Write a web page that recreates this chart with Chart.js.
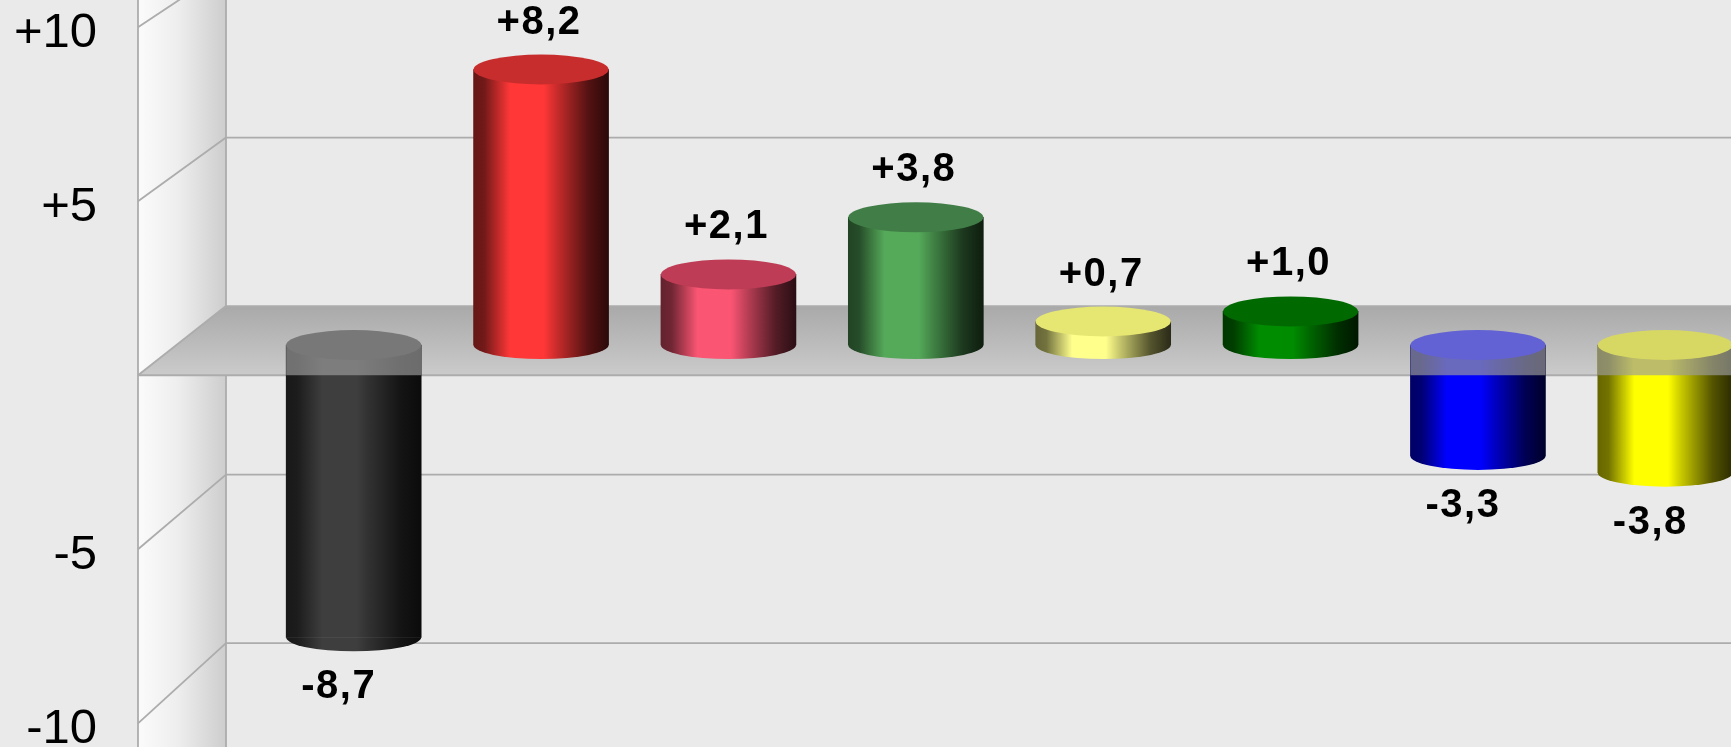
<!DOCTYPE html>
<html><head><meta charset="utf-8">
<style>html,body{margin:0;padding:0;background:#eaeaea;overflow:hidden;width:1731px;height:747px}canvas{display:block}</style>
<script src="https://cdn.jsdelivr.net/npm/chart.js@4"></script>
</head><body><canvas id="c" width="1759" height="747"></canvas>
<script>
const categories = ['A','B','C','D','E','F','G','H'];
const values = [-8.7, 8.2, 2.1, 3.8, 0.7, 1.0, -3.3, -3.8];
const valueLabels = ['-8,7','+8,2','+2,1','+3,8','+0,7','+1,0','-3,3','-3,8'];
const barColors = [[62,62,62],[255,55,55],[250,85,115],[85,170,90],[255,255,140],[0,140,0],[0,0,255],[255,255,0]];
const topColors = ['rgb(120,120,120)','rgb(200,45,45)','rgb(190,60,85)','rgb(65,125,70)','rgb(230,230,115)','rgb(0,105,0)','rgb(98,98,212)','rgb(215,215,100)'];
const tickValues = [-10,-5,0,5,10];
const wall = {front:138, back:226};
const BAR_W = 135, RY_TOP = 15, RY_BOTTOM = 14;
const stops = [[0,.4],[.08,.45],[.27,1],[.52,1],[.62,.78],[.72,.58],[.85,.33],[1,.17]];
const rgb = (c,f)=>`rgb(${c.map(v=>Math.round(v*f)).join(',')})`;
function sideGrad(ctx,x,i){
  const g = ctx.createLinearGradient(x-BAR_W/2,0,x+BAR_W/2,0);
  stops.forEach(s=>g.addColorStop(s[0],rgb(barColors[i],s[1])));
  return g;
}
function drawTop(ctx,el,i){
  const y = Math.min(el.y,el.base);
  ctx.fillStyle = topColors[i];
  ctx.beginPath();ctx.ellipse(el.x,y,BAR_W/2,RY_TOP,0,0,Math.PI*2);ctx.fill();
}
function drawBottom(ctx,el,i){
  const y = Math.max(el.y,el.base);
  ctx.fillStyle = sideGrad(ctx,el.x,i);
  ctx.beginPath();ctx.ellipse(el.x,y,BAR_W/2,RY_BOTTOM,0,0,Math.PI);ctx.fill();
}
const LINE='#acacac';
function seg(ctx,x1,y1,x2,y2){ctx.strokeStyle=LINE;ctx.lineWidth=1.8;ctx.beginPath();ctx.moveTo(x1,y1);ctx.lineTo(x2,y2);ctx.stroke();}
const scene = {
  id:'scene',
  beforeDatasetsDraw(chart){
    const ctx=chart.ctx,{yFront,yBack}=chart.scales,W=chart.width,H=chart.height;
    const g=ctx.createLinearGradient(wall.front,0,wall.back,0);
    g.addColorStop(0,'#fbfbfb');g.addColorStop(.45,'#eeeeee');g.addColorStop(1,'#cdcdcd');
    ctx.fillStyle=g;ctx.fillRect(wall.front,0,wall.back-wall.front,H);
    seg(ctx,wall.front,0,wall.front,H);seg(ctx,wall.back,0,wall.back,H);
    tickValues.forEach(v=>{
      const f=yFront.getPixelForValue(v),b=yBack.getPixelForValue(v);
      if(v===0) return;
      seg(ctx,wall.front,f,wall.back,b);
      seg(ctx,wall.back,b,W,b);
    });
    const f=yFront.getPixelForValue(0),b=yBack.getPixelForValue(0);
    const fl=ctx.createLinearGradient(0,b,0,f);
    fl.addColorStop(0,'#a9a9a9');fl.addColorStop(1,'#cbcbcb');
    ctx.fillStyle=fl;ctx.beginPath();ctx.moveTo(wall.front,f);ctx.lineTo(wall.back,b);ctx.lineTo(W,b);ctx.lineTo(W,f);ctx.closePath();ctx.fill();
    seg(ctx,wall.front,f,wall.back,b);seg(ctx,wall.back,b,W,b);seg(ctx,wall.front,f,W,f);
  },
  beforeDatasetDraw(chart,args){
    const ctx=chart.ctx;
    args.meta.data.forEach((el,i)=>{ if(chart.data.datasets[args.index].data[i]!==null) drawBottom(ctx,el,i); });
  },
  afterDatasetDraw(chart,args){
    const ctx=chart.ctx,{yFront}=chart.scales;
    const f=yFront.getPixelForValue(0);
    args.meta.data.forEach((el,i)=>{
      if(chart.data.datasets[args.index].data[i]===null) return;
      if(args.index===1){
        ctx.fillStyle='rgba(157,157,157,.67)';
        ctx.fillRect(el.x-BAR_W/2,el.base,BAR_W,f-el.base);
      }
      drawTop(ctx,el,i);
    });
  },
  afterDraw(chart){
    const ctx=chart.ctx,{x,y}=chart.scales;
    ctx.save();
    ctx.font='bold 40px "Liberation Sans"';ctx.letterSpacing='1.5px';
    ctx.fillStyle='#000';ctx.textAlign='center';ctx.textBaseline='middle';
    values.forEach((v,i)=>{
      const px=x.getPixelForTick(i),py=y.getPixelForValue(v);
      if(v>=0) ctx.fillText(valueLabels[i],px-2,py-47);
      else ctx.fillText(valueLabels[i],px-15,py+50);
    });
    ctx.restore();
  }
};
new Chart(document.getElementById('c'),{
  type:'bar',
  data:{labels:categories,datasets:[
    {data:values.map(v=>v>0?v:null),yAxisID:'y',grouped:false,barThickness:BAR_W,borderWidth:0,
     backgroundColor:c=>sideGrad(c.chart.ctx,c.chart.scales.x.getPixelForTick(c.dataIndex),c.dataIndex)},
    {data:values.map(v=>v<0?v:null),yAxisID:'y',grouped:false,barThickness:BAR_W,borderWidth:0,
     backgroundColor:c=>sideGrad(c.chart.ctx,c.chart.scales.x.getPixelForTick(c.dataIndex),c.dataIndex)}
  ]},
  options:{
    responsive:false,animation:false,events:[],
    plugins:{legend:{display:false},tooltip:{enabled:false}},
    scales:{
      x:{display:false,offset:true,grid:{display:false}},
      y:{display:false,min:-11.964,max:10.268,grid:{display:false}},
      yBack:{display:false,min:-13.08,max:9.08,grid:{display:false}},
      yFront:{position:'left',min:-10.68,max:10.78,grid:{display:false},border:{display:false},
        afterBuildTicks:s=>{s.ticks=tickValues.map(v=>({value:v}));},
        afterFit:s=>{s.width=260;s.paddingTop=0;s.paddingBottom=0;},
        ticks:{padding:155,labelOffset:6,autoSkip:false,color:'#000',font:{family:'"Liberation Sans"',size:49},
          callback:v=>v===0?'':(v>0?'+'+v:String(v))}}
    }
  },
  plugins:[scene]
});
</script></body></html>
